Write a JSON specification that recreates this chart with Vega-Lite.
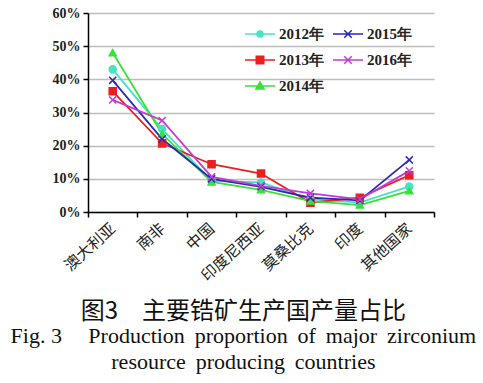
{
  "$schema": "https://vega.github.io/schema/vega-lite/v6.json",
  "width": 346,
  "height": 199,
  "padding": {"left": 10, "top": 6, "right": 5, "bottom": 2},
  "background": "white",
  "config": {"view": {"stroke": null}},
  "title": {
    "text": "图3　主要锆矿生产国产量占比",
    "subtitle": ["Fig. 3\u2003\u2009Production \u2009proportion \u2009of \u2009major \u2009zirconium", "resource \u2009producing \u2009countries"],
    "orient": "bottom",
    "anchor": "middle",
    "frame": "bounds",
    "font": "Noto Sans CJK SC",
    "fontSize": 24,
    "fontWeight": "normal",
    "color": "#111",
    "subtitleFont": "Liberation Serif",
    "subtitleFontSize": 22,
    "subtitleColor": "#111",
    "subtitleLineHeight": 26,
    "subtitlePadding": 2,
    "offset": 16
  },
  "data": {
    "values": [
      {"country": "澳大利亚", "year": "2012年", "value": 0.43},
      {"country": "南非", "year": "2012年", "value": 0.25},
      {"country": "中国", "year": "2012年", "value": 0.094},
      {"country": "印度尼西亚", "year": "2012年", "value": 0.089},
      {"country": "莫桑比克", "year": "2012年", "value": 0.038},
      {"country": "印度", "year": "2012年", "value": 0.028},
      {"country": "其他国家", "year": "2012年", "value": 0.077},
      {"country": "澳大利亚", "year": "2013年", "value": 0.364},
      {"country": "南非", "year": "2013年", "value": 0.207},
      {"country": "中国", "year": "2013年", "value": 0.144},
      {"country": "印度尼西亚", "year": "2013年", "value": 0.116},
      {"country": "莫桑比克", "year": "2013年", "value": 0.028},
      {"country": "印度", "year": "2013年", "value": 0.043},
      {"country": "其他国家", "year": "2013年", "value": 0.111},
      {"country": "澳大利亚", "year": "2014年", "value": 0.48},
      {"country": "南非", "year": "2014年", "value": 0.235},
      {"country": "中国", "year": "2014年", "value": 0.091},
      {"country": "印度尼西亚", "year": "2014年", "value": 0.067},
      {"country": "莫桑比克", "year": "2014年", "value": 0.033},
      {"country": "印度", "year": "2014年", "value": 0.021},
      {"country": "其他国家", "year": "2014年", "value": 0.064},
      {"country": "澳大利亚", "year": "2015年", "value": 0.397},
      {"country": "南非", "year": "2015年", "value": 0.22},
      {"country": "中国", "year": "2015年", "value": 0.10},
      {"country": "印度尼西亚", "year": "2015年", "value": 0.076},
      {"country": "莫桑比克", "year": "2015年", "value": 0.043},
      {"country": "印度", "year": "2015年", "value": 0.035},
      {"country": "其他国家", "year": "2015年", "value": 0.157},
      {"country": "澳大利亚", "year": "2016年", "value": 0.338},
      {"country": "南非", "year": "2016年", "value": 0.276},
      {"country": "中国", "year": "2016年", "value": 0.106},
      {"country": "印度尼西亚", "year": "2016年", "value": 0.079},
      {"country": "莫桑比克", "year": "2016年", "value": 0.056},
      {"country": "印度", "year": "2016年", "value": 0.038},
      {"country": "其他国家", "year": "2016年", "value": 0.124}
    ]
  },
  "encoding": {
    "x": {
      "field": "country",
      "type": "nominal",
      "bandPosition": 0.5,
      "scale": {"type": "band", "domain": ["澳大利亚", "南非", "中国", "印度尼西亚", "莫桑比克", "印度", "其他国家"], "paddingInner": 0, "paddingOuter": 0},
      "axis": {
        "title": null,
        "labelAngle": -42,
        "labelAlign": "right",
        "labelBaseline": "middle",
        "labelFont": "Noto Sans CJK SC",
        "labelFontSize": 15.5,
        "labelColor": "#222",
        "labelPadding": 9,
        "tickBand": "extent",
        "tickSize": 5,
        "tickColor": "#000",
        "tickWidth": 1.5,
        "domainColor": "#000",
        "domainWidth": 1.5,
        "grid": false
      }
    },
    "y": {
      "field": "value",
      "type": "quantitative",
      "scale": {"domain": [0, 0.6], "nice": false},
      "axis": {
        "title": null,
        "values": [0, 0.1, 0.2, 0.3, 0.4, 0.5, 0.6],
        "format": ".0%",
        "labelFont": "Liberation Serif",
        "labelFontWeight": "bold",
        "labelFontSize": 14,
        "labelColor": "#222",
        "labelPadding": 3,
        "tickSize": 5,
        "tickColor": "#000",
        "tickWidth": 1.5,
        "domainColor": "#000",
        "domainWidth": 1.5,
        "grid": true,
        "gridColor": "#bdbdbd",
        "gridWidth": 1.5
      }
    }
  },
  "layer": [
    {
      "mark": {"type": "line", "strokeWidth": 1.8},
      "encoding": {
        "color": {
          "field": "year",
          "type": "nominal",
          "scale": {"domain": ["2012年", "2015年", "2013年", "2016年", "2014年"], "range": ["#45e3c3", "#2a2ab5", "#ea2020", "#c23cd2", "#38e038"]},
          "legend": null
        }
      }
    },
    {
      "mark": {"type": "point", "filled": true, "size": 50, "strokeWidth": 1.5, "opacity": 1},
      "encoding": {
        "fill": {
          "field": "year",
          "type": "nominal",
          "scale": {"domain": ["2012年", "2015年", "2013年", "2016年", "2014年"], "range": ["#45e3c3", "#2a2ab5", "#ea2020", "#c23cd2", "#38e038"]},
          "legend": null
        },
        "stroke": {
          "field": "year",
          "type": "nominal",
          "scale": {"domain": ["2012年", "2015年", "2013年", "2016年", "2014年"], "range": ["#45e3c3", "#2a2ab5", "#ea2020", "#c23cd2", "#38e038"]},
          "legend": null
        },
        "shape": {
          "field": "year",
          "type": "nominal",
          "scale": {"domain": ["2012年", "2015年", "2013年", "2016年", "2014年"], "range": ["circle", "M-1,-1L1,1M-1,1L1,-1", "square", "M-1,-1L1,1M-1,1L1,-1", "triangle-up"]},
          "legend": null
        }
      }
    },
    {
      "transform": [{"filter": "datum.value < 0"}],
      "mark": {"type": "point", "filled": true, "size": 900, "strokeWidth": 1.5, "opacity": 1},
      "encoding": {
        "fill": {
          "field": "year",
          "type": "nominal",
          "title": null,
          "scale": {"domain": ["2012年", "2015年", "2013年", "2016年", "2014年"], "range": ["#45e3c3", "#2a2ab5", "#ea2020", "#c23cd2", "#38e038"]}
        },
        "stroke": {
          "field": "year",
          "type": "nominal",
          "title": null,
          "scale": {"domain": ["2012年", "2015年", "2013年", "2016年", "2014年"], "range": ["#45e3c3", "#2a2ab5", "#ea2020", "#c23cd2", "#38e038"]}
        },
        "shape": {
          "field": "year",
          "type": "nominal",
          "title": null,
          "scale": {"domain": ["2012年", "2015年", "2013年", "2016年", "2014年"], "range": [
            "M-1,0H1M-0.2,0A0.2,0.2,0,1,0,0.2,0A0.2,0.2,0,1,0,-0.2,0Z",
            "M-1,0H1M-0.25,-0.25L0.25,0.25M-0.25,0.25L0.25,-0.25",
            "M-1,0H1M-0.25,-0.25H0.25V0.25H-0.25Z",
            "M-1,0H1M-0.25,-0.25L0.25,0.25M-0.25,0.25L0.25,-0.25",
            "M-1,0H1M0,-0.27L0.27,0.2H-0.27Z"
          ]},
          "legend": {
            "orient": "none",
            "legendX": 156,
            "legendY": 5,
            "columns": 2,
            "direction": "horizontal",
            "symbolSize": 900,
            "symbolStrokeWidth": 1.5,
            "labelFont": "Liberation Serif",
            "labelFontWeight": "bold",
            "labelFontSize": 15,
            "labelColor": "#222",
            "labelOffset": 3,
            "rowPadding": 2,
            "columnPadding": 6
          }
        }
      }
    }
  ],
  "resolve": {"scale": {"color": "independent", "fill": "independent", "stroke": "independent", "shape": "independent"}}
}
